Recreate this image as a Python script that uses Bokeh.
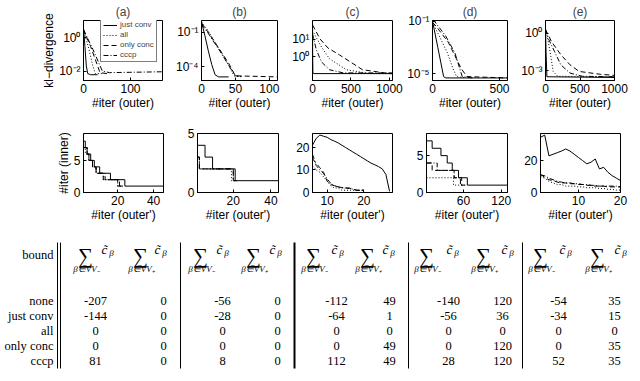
from bokeh.plotting import figure
from bokeh.layouts import row, column
from bokeh.models import Range1d, FixedTicker, CustomJSTickFormatter, Legend, LegendItem
from bokeh.core.properties import value
from bokeh.embed import file_html
from bokeh.resources import INLINE

SANS = "Liberation Sans"
SERIF = "Liberation Serif"

methods = ["just conv", "all", "only conc", "cccp"]
dashes = ["solid", "1 2", "5 3", "5 2 1 2"]
panel_titles = ["(a)", "(b)", "(c)", "(d)", "(e)"]

# ---------------- top row: kl-divergence vs #iter (outer) ----------------
a_x_just = [0, 3, 6, 9, 15, 30]
a_kl_just = [4.0, 0.3, 0.02, 0.007, 0.006, 0.006]
a_x_all = [0, 10, 20, 25, 40]
a_kl_all = [3.0, 0.3, 0.02, 0.007, 0.007]
a_x_conc = [0, 15, 25, 35, 50]
a_kl_conc = [3.0, 0.3, 0.05, 0.008, 0.007]
a_x_cccp = [0, 20, 40, 55, 168]
a_kl_cccp = [3.0, 0.2, 0.01, 0.008, 0.009]

b_x_just = [0, 5, 10, 15, 20, 25, 40]
b_kl_just = [0.8, 0.05, 2.5e-3, 1.6e-4, 2e-5, 1.3e-5, 1.3e-5]
b_x_all = [0, 10, 20, 30, 40, 48, 60]
b_kl_all = [0.8, 0.13, 0.013, 1.3e-3, 1.3e-4, 1.6e-5, 1.3e-5]
b_x_conc = [0, 10, 20, 30, 40, 50, 112]
b_kl_conc = [0.63, 0.1, 0.013, 1.6e-3, 2e-4, 1.6e-5, 1.3e-5]
b_x_cccp = [0, 10, 20, 30, 40, 50, 60]
b_kl_cccp = [0.5, 0.08, 0.01, 1.3e-3, 1.3e-4, 1.6e-5, 1.4e-5]

c_x_just = [0, 2, 5, 20, 1040]
c_kl_just = [63.0, 2.0, 0.126, 0.115, 0.115]
c_x_all = [0, 26, 117, 221, 441, 740, 1040]
c_kl_all = [32.0, 19.0, 3.6, 0.78, 0.19, 0.115, 0.115]
c_x_conc = [0, 100, 200, 350, 650, 1000, 1040]
c_kl_conc = [63.0, 10.0, 3.2, 1.3, 0.19, 0.115, 0.115]
c_x_cccp = [0, 50, 117, 221, 400, 1040]
c_kl_cccp = [20.0, 2.5, 0.52, 0.19, 0.126, 0.126]

d_x_just = [0, 40, 83, 100, 560]
d_kl_just = [0.1, 1e-3, 6.3e-6, 5e-6, 5e-6]
d_x_all = [0, 49, 111, 153, 180, 250]
d_kl_all = [0.08, 8e-3, 4e-4, 2.5e-5, 6.3e-6, 5e-6]
d_x_conc = [0, 28, 118, 215, 257, 560]
d_kl_conc = [0.08, 0.04, 2.5e-3, 2.5e-5, 6.3e-6, 5e-6]
d_x_cccp = [0, 14, 97, 167, 222, 300]
d_kl_cccp = [0.1, 0.1, 8e-3, 4e-4, 6.3e-6, 5e-6]

e_x_just = [0, 8, 20, 1000]
e_kl_just = [3.2, 0.032, 3.2e-4, 2.8e-4]
e_x_all = [0, 22, 67, 111, 178, 1000]
e_kl_all = [2.0, 0.7, 0.032, 8.5e-4, 3.5e-4, 3.2e-4]
e_x_conc = [0, 89, 222, 355, 489, 800, 1000]
e_kl_conc = [2.0, 0.2, 0.019, 2.9e-3, 8.5e-4, 5e-4, 4.1e-4]
e_x_cccp = [0, 44, 133, 222, 355, 533, 1000]
e_kl_cccp = [2.0, 0.34, 0.032, 2.9e-3, 6.3e-4, 3.5e-4, 3.2e-4]

top_x_ticks = [[0, 100], [0, 50, 100], [0, 500, 1000], [0, 500], [0, 500, 1000]]
top_y_ticks = [[1e-2, 1], [1e-4, 1e-1], [1, 10], [1e-5, 1e-1], [1e-3, 1]]
top_x_lim = [(0, 168), (0, 112), (0, 1040), (0, 560), (0, 1000)]
top_y_lim = [(2.7e-3, 10.7), (6.3e-6, 1.07), (0.047, 112.0), (3.2e-6, 0.112), (1.6e-4, 10.5)]

# ---------------- middle row: #iter (inner) vs #iter (outer') ----------------
ma_x_just = [1, 2, 3, 5, 7, 10, 16, 24, 45.5]
ma_n_just = [8, 7, 6, 5, 4, 3, 2, 1, 1]
ma_x_cccp = [1, 3, 4, 6, 8, 13, 21, 24]
ma_n_cccp = [7, 6, 5, 4, 3, 2, 1, 1]
ma_x_conc = [1, 3, 4, 6, 8, 12, 20, 23]
ma_n_conc = [7, 6, 5, 4, 3, 2, 1, 1]
ma_x_all = [1, 2, 4, 6, 8, 12, 20, 22]
ma_n_all = [7, 6, 5, 4, 3, 2, 1, 1]

mb_x_just = [1, 5, 9, 21, 44]
mb_n_just = [4, 3, 2, 1, 1]
mb_x_cccp = [1, 2, 20, 22]
mb_n_cccp = [3, 2, 1, 1]
mb_x_conc = [1, 2, 20, 22]
mb_n_conc = [3, 2, 1, 1]
mb_x_all = [1, 2, 19, 21]
mb_n_all = [3, 2, 1, 1]

mc_x = [6, 7, 8, 9, 10, 11, 12, 13, 14, 15, 16, 17, 18, 19, 20, 21, 22, 23, 24, 25, 26, 27]
mc_n_just = [21, 24, 25.5, 25, 24.5, 23.5, 22.8, 22, 21, 20, 19, 18, 17, 16, 15, 14, 13, 12.3, 11.5, 10.5, 8, 0.5]
mc_x_short = [6, 7, 8, 9, 10, 11, 12, 13, 14, 15, 16, 17, 18, 19, 20]
mc_n_cccp = [17, 12, 10, 8.5, 6, 4, 3, 2.5, 2, 2, 1.8, 1.5, 1, 1, 1]
mc_n_conc = [15, 13, 11, 9, 5, 3.5, 3, 2.5, 2.2, 2, 2, 1.5, 1, 1, 1]
mc_n_all = [12, 10, 9, 7, 5, 3, 2, 2, 1, 1, 1, 1, 1, 1, 1]

md_x_just = [1, 10, 24, 34, 42, 52, 66, 130]
md_n_just = [7, 6, 5, 4, 3, 2, 1, 1]
md_x_cccp = [1, 18, 45, 55, 62]
md_n_cccp = [4, 3, 2, 1, 1]
md_x_conc = [1, 10, 45, 57, 64]
md_n_conc = [4, 3, 2, 1, 1]
md_x_all = [1, 44, 60]
md_n_all = [2, 1, 1]

me_x = [1, 2, 3, 4, 5, 6, 7, 8, 9, 10, 11, 12, 13, 14, 15, 16, 17, 18, 19, 20]
me_n_just = [34.6, 36, 23, 24, 25, 26, 27.3, 26, 24, 22, 20, 18, 19, 21, 14.8, 15.8, 12.7, 10.6, 9, 7.5]
me_n_cccp = [11, 10.5, 9, 8, 7, 6.5, 6, 6, 5.5, 5.5, 5, 5, 4.5, 4.5, 4, 4, 4, 4, 4, 3.5]
me_n_conc = [11.5, 9.5, 8, 7.5, 6.5, 6, 6, 5.5, 5.5, 5, 5, 4.5, 4.5, 4, 4, 4, 3.5, 3.5, 3.5, 3.5]
me_n_all = [10, 9, 7, 6, 5, 5, 4, 4, 4, 3.5, 3.5, 3, 3, 3, 2.5, 2.5, 2, 2, 1.5, 1.5]

mid_x_ticks = [[20, 40], [20, 40], [10, 20], [60, 120], [10, 20]]
mid_y_ticks = [[0, 5], [0, 5], [0, 10, 20], [0, 5], [0, 20]]
mid_x_lim = [(1, 45.5), (1, 44), (6, 27.8), (1, 130), (1, 20)]
mid_y_lim = [(0, 9.2), (0, 5), (0, 26.2), (0, 8), (0, 37)]

# ---------------- table ----------------
bound_rows = ["none", "just conv", "all", "only conc", "cccp"]
row_none = [-207, 0, -56, 0, -112, 49, -140, 120, -54, 35]
row_just_conv = [-144, 0, -28, 0, -64, 1, -56, 36, -34, 15]
row_all = [0, 0, 0, 0, 0, 0, 0, 0, 0, 0]
row_only_conc = [0, 0, 0, 0, 0, 49, 0, 120, 0, 35]
row_cccp = [81, 0, 8, 0, 112, 49, 28, 120, 52, 35]
col_sets = ["V₋", "V₊", "V₋", "V₊", "V₋", "V₊", "V₋", "V₊", "V₋", "V₊"]

# ---------------- layout constants ----------------
col_w = [172, 115, 117, 114, 122]
bord_l = [83, 25, 25, 22, 22]
top_bord_r = [10, 10, 12, 11, 26]
mid_bord_r = [9, 9, 12, 11, 20]

log_fmt = CustomJSTickFormatter(code="""
const e = Math.round(Math.log10(tick));
const m = {'-':'⁻','0':'⁰','1':'¹','2':'²','3':'³','4':'⁴','5':'⁵','6':'⁶','7':'⁷','8':'⁸','9':'⁹'};
return '10' + String(e).split('').map(c => m[c]).join('');
""")


def style(p):
    p.outline_line_color = "black"
    p.outline_line_width = 1
    p.outline_line_alpha = 1
    p.grid.visible = False
    p.background_fill_color = "white"
    p.border_fill_color = "white"
    for ax in p.axis:
        ax.major_tick_in = 3
        ax.major_tick_out = 0
        ax.minor_tick_line_color = None
        ax.axis_line_color = "black"
        ax.major_tick_line_color = "black"
        ax.major_label_text_font = SANS
        ax.major_label_text_font_size = "12px"
        ax.major_label_text_color = "black"
        ax.major_label_standoff = 3
        ax.axis_label_text_font = SANS
        ax.axis_label_text_font_size = "12px"
        ax.axis_label_text_font_style = "normal"
        ax.axis_label_text_color = "black"
        ax.axis_label_standoff = 0


top_data = [
    [(a_x_just, a_kl_just), (a_x_all, a_kl_all), (a_x_conc, a_kl_conc), (a_x_cccp, a_kl_cccp)],
    [(b_x_just, b_kl_just), (b_x_all, b_kl_all), (b_x_conc, b_kl_conc), (b_x_cccp, b_kl_cccp)],
    [(c_x_just, c_kl_just), (c_x_all, c_kl_all), (c_x_conc, c_kl_conc), (c_x_cccp, c_kl_cccp)],
    [(d_x_just, d_kl_just), (d_x_all, d_kl_all), (d_x_conc, d_kl_conc), (d_x_cccp, d_kl_cccp)],
    [(e_x_just, e_kl_just), (e_x_all, e_kl_all), (e_x_conc, e_kl_conc), (e_x_cccp, e_kl_cccp)],
]

top_figs = []
for i in range(5):
    p = figure(width=col_w[i], height=112, y_axis_type="log",
               x_range=Range1d(*top_x_lim[i]), y_range=Range1d(*top_y_lim[i]),
               output_backend="svg", toolbar_location=None, title=panel_titles[i],
               min_border_left=bord_l[i], min_border_right=top_bord_r[i],
               min_border_top=18, min_border_bottom=32)
    p.title.align = "center"
    p.title.text_font = SANS
    p.title.text_font_size = "12px"
    p.title.text_font_style = "normal"
    p.title.standoff = 4
    items = []
    for k, (xs, ys) in enumerate(top_data[i]):
        r = p.line(xs, ys, line_color="black", line_width=1, line_dash=dashes[k])
        items.append(LegendItem(label=methods[k], renderers=[r]))
    p.xaxis.ticker = FixedTicker(ticks=top_x_ticks[i])
    p.yaxis.ticker = FixedTicker(ticks=top_y_ticks[i])
    p.yaxis.formatter = log_fmt
    p.xaxis.axis_label = "#iter (outer)"
    if i == 0:
        p.yaxis.axis_label = "kl−divergence"
        leg = Legend(items=items, location=(17, 18), label_text_font=SANS,
                     label_text_font_size="8px", label_text_line_height=0.9,
                     label_height=6, glyph_height=6, glyph_width=14, spacing=1,
                     padding=2, margin=0, label_standoff=3,
                     border_line_color="black", border_line_width=1,
                     background_fill_color="white", background_fill_alpha=1)
        p.add_layout(leg, "center")
    style(p)
    top_figs.append(p)

mid_data = [
    [("step", ma_x_just, ma_n_just), ("step", ma_x_all, ma_n_all), ("step", ma_x_conc, ma_n_conc), ("step", ma_x_cccp, ma_n_cccp)],
    [("step", mb_x_just, mb_n_just), ("step", mb_x_all, mb_n_all), ("step", mb_x_conc, mb_n_conc), ("step", mb_x_cccp, mb_n_cccp)],
    [("line", mc_x, mc_n_just), ("line", mc_x_short, mc_n_all), ("line", mc_x_short, mc_n_conc), ("line", mc_x_short, mc_n_cccp)],
    [("step", md_x_just, md_n_just), ("step", md_x_all, md_n_all), ("step", md_x_conc, md_n_conc), ("step", md_x_cccp, md_n_cccp)],
    [("line", me_x, me_n_just), ("line", me_x, me_n_all), ("line", me_x, me_n_conc), ("line", me_x, me_n_cccp)],
]

mid_figs = []
for i in range(5):
    p = figure(width=col_w[i], height=112,
               x_range=Range1d(*mid_x_lim[i]), y_range=Range1d(*mid_y_lim[i]),
               output_backend="svg", toolbar_location=None,
               min_border_left=bord_l[i], min_border_right=mid_bord_r[i],
               min_border_top=21, min_border_bottom=32)
    for k, (kind, xs, ys) in enumerate(mid_data[i]):
        if kind == "step":
            p.step(xs, ys, mode="after", line_color="black", line_width=1, line_dash=dashes[k])
        else:
            p.line(xs, ys, line_color="black", line_width=1, line_dash=dashes[k])
    p.xaxis.ticker = FixedTicker(ticks=mid_x_ticks[i])
    p.yaxis.ticker = FixedTicker(ticks=mid_y_ticks[i])
    p.xaxis.axis_label = "#iter (outer')"
    if i == 0:
        p.yaxis.axis_label = "#iter (inner)"
    style(p)
    mid_figs.append(p)

# ---------------- table figure ----------------
t = figure(width=640, height=157, x_range=Range1d(0, 640), y_range=Range1d(381, 224),
           output_backend="svg", toolbar_location=None,
           x_axis_location=None, y_axis_location=None,
           min_border_left=0, min_border_right=0, min_border_top=0, min_border_bottom=0)
t.outline_line_color = None
t.grid.visible = False
t.background_fill_color = "white"
t.border_fill_color = "white"

num_x = [95, 163, 222, 277, 336, 389, 448, 502, 558, 614]
sum_x = [85, 140, 200, 253, 313, 367, 426, 483, 540, 597]
c_x = [107, 160, 222, 275, 337, 388, 452, 507, 565, 620]
row_y = [300, 315, 330, 345, 360]
label_x = 53
header_y = 254

# row labels
t.text(x=[label_x] * (len(bound_rows) + 1), y=[header_y] + row_y, text=["bound"] + bound_rows,
       text_font=value(SERIF), text_font_size="12.5px", text_align="right",
       text_baseline="middle", text_color="black")

rows_vals = [row_none, row_just_conv, row_all, row_only_conc, row_cccp]
xs, ys, ts = [], [], []
for r, vals in enumerate(rows_vals):
    for j, v in enumerate(vals):
        xs.append(num_x[j])
        ys.append(row_y[r])
        ts.append(str(v))
t.text(x=xs, y=ys, text=ts, text_font=value(SERIF), text_font_size="12.5px",
       text_align="center", text_baseline="middle", text_color="black")

# header sums
t.text(x=sum_x, y=[header_y + 1] * 10, text=["∑"] * 10, text_font=value(SERIF),
       text_font_size="21px", text_align="center", text_baseline="middle", text_color="black")
t.text(x=[s + 1 for s in sum_x], y=[268] * 10, text=["β∈" + "V" + s for s in col_sets],
       text_font=value(SERIF), text_font_size="9px", text_font_style="italic",
       text_align="center", text_baseline="middle", text_color="black")
t.text(x=[c - 3 for c in c_x], y=[249] * 10, text=["c\u0303"] * 10, text_font=value(SERIF),
       text_font_size="13px", text_font_style="italic", text_align="center",
       text_baseline="middle", text_color="black")
t.text(x=[c + 4 for c in c_x], y=[252] * 10, text=["β"] * 10, text_font=value(SERIF),
       text_font_size="9px", text_font_style="italic", text_align="center",
       text_baseline="middle", text_color="black")

# rules
bar_x = [57, 60, 180, 294, 408, 522]
bar_w = [1, 1, 1, 2, 1, 1]
t.segment(x0=bar_x, y0=[242] * 6, x1=bar_x, y1=[368] * 6, line_color="black", line_width=bar_w)

layout = column(row(*top_figs, spacing=0), row(*mid_figs, spacing=0), t, spacing=0)

open("out.html", "w").write(file_html(layout, INLINE))
